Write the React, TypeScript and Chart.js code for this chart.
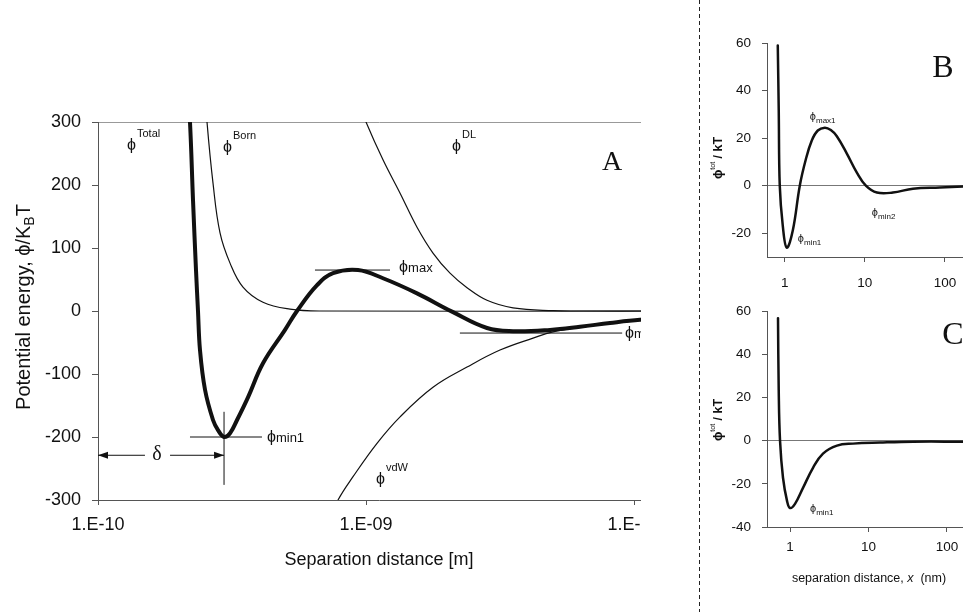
import React, { useEffect, useRef } from 'react';
import { Chart, registerables } from 'chart.js';

Chart.register(...registerables);

const SANS = '"Liberation Sans", Arial, Helvetica, sans-serif';
const SERIF = '"Liberation Serif", "Times New Roman", Times, serif';
const INK = '#111111';
const AXIS = '#555555';
const PHI = 'ϕ';

// ---------------- Panel A (separation in metres, energy in kBT) ----------------
const xTicksA = [1e-10, 1e-9, 1e-8];
const xTickLabelsA = ['1.E-10', '1.E-09', '1.E-08'];
const yTicksA = [-300, -200, -100, 0, 100, 200, 300];

const totalX = [2.167e-10, 2.204e-10, 2.262e-10, 2.321e-10, 2.361e-10, 2.402e-10, 2.508e-10, 2.686e-10, 2.804e-10, 2.953e-10, 3.109e-10, 3.302e-10, 3.628e-10, 4.127e-10, 4.986e-10, 5.527e-10, 6.566e-10, 7.533e-10, 9.336e-10, 1.157e-9, 1.55e-9, 2.094e-9, 2.828e-9, 3.537e-9, 4.861e-9, 6.288e-9, 8.137e-9, 1.053e-8, 1.24e-8];
const totalY = [335, 300, 176, 65, 0, -62, -125, -173, -189, -200, -194, -173, -137, -83, -30, 0, 41, 60, 65, 52, 28, -1, -27, -32, -30, -25, -19, -14, -13];

const bornX = [2.529e-10, 2.551e-10, 2.686e-10, 2.853e-10, 3.109e-10, 3.475e-10, 4.127e-10, 5.204e-10, 6.735e-10, 1.25e-8];
const bornY = [335, 300, 203, 124, 76, 38, 14, 3, 0, 0];

const dlX = [9.497e-10, 1.0e-9, 1.157e-9, 1.34e-9, 1.55e-9, 1.778e-9, 2.058e-9, 2.382e-9, 2.828e-9, 3.537e-9, 4.988e-9, 6.453e-9, 1.25e-8];
const dlY = [327, 300, 240, 187, 133, 92, 60, 37, 17, 5, 0.5, 0, 0];

const vdwX = [7.661e-10, 7.862e-10, 8.944e-10, 1.099e-9, 1.34e-9, 1.778e-9, 2.382e-9, 3.162e-9, 4.2e-9, 4.988e-9, 6.288e-9, 8.137e-9, 1.053e-8, 1.25e-8];
const vdwY = [-316, -300, -263, -210, -168, -121, -89, -62, -43, -33, -26, -20, -15, -13];

// marker lines of panel A (data coordinates)
const phiMaxLevel = 65;
const phiMaxSpan = [6.45e-10, 1.229e-9];
const phiMin2Level = -35;
const phiMin2Span = [2.24e-9, 9.03e-9];
const phiMin1Level = -200;
const phiMin1Span = [2.204e-10, 4.091e-10];
const phiMin1At = 2.953e-10;
const phiMin1Vertical = [-160, -276];
const deltaLevel = -229;
const deltaGap = [1.497e-10, 1.857e-10];

const superLabelsA = [
  { x: 1.283e-10, y: 255, sup: 'Total' },
  { x: 2.927e-10, y: 252, sup: 'Born' },
  { x: 2.093e-9, y: 254, sup: 'DL' },
  { x: 1.09e-9, y: -274, sup: 'vdW' },
];
const subLabelsA = [
  { x: 1.329e-9, y: 62, sub: 'max' },
  { x: 4.27e-10, y: -208, sub: 'min1' },
  { x: 9.26e-9, y: -43, sub: 'min2' },
];

// ---------------- Panel B (separation in nm, energy in kT) ----------------
const xTicksBC = [1, 10, 100];
const xTickLabelsBC = ['1', '10', '100'];
const yTicksB = [-20, 0, 20, 40, 60];
const bX = [0.818, 0.841, 0.866, 0.944, 1.059, 1.259, 1.54, 1.83, 2.175, 2.585, 3.162, 3.758, 4.467, 5.957, 7.943, 10.29, 14.13, 22.39, 39.81, 86.6, 168];
const bY = [58.9, 31.6, 0, -16.8, -26.1, -18.9, 0, 11, 19, 23.2, 24.4, 23.4, 20.8, 13.5, 5.5, 0, -2.9, -2.9, -1.3, -0.8, -0.4];
const labelsB = [
  { x: 2.054, y: 27.8, sub: 'max1' },
  { x: 12.23, y: -12.6, sub: 'min2' },
  { x: 1.454, y: -23.6, sub: 'min1' },
];

// ---------------- Panel C ----------------
const yTicksC = [-40, -20, 0, 20, 40, 60];
const cX = [0.703, 0.718, 0.746, 0.814, 0.916, 1.0, 1.158, 1.464, 1.963, 2.63, 3.97, 6.35, 14.0, 36.9, 159];
const cY = [56.7, 23.3, 0, -17.2, -27.9, -31.2, -29.3, -21.9, -12.6, -6, -2.3, -1.4, -0.9, -0.5, -0.5];
const labelsC = [{ x: 1.798, y: -33, sub: 'min1' }];

type Part = { t: string; size: number; family?: string; style?: string; dy?: number; dx?: number };

function setFont(ctx: CanvasRenderingContext2D, p: Part) {
  ctx.font = `${p.style || ''} ${p.size}px ${p.family || SANS}`;
}
function partsWidth(ctx: CanvasRenderingContext2D, parts: Part[]) {
  let w = 0;
  for (const p of parts) {
    setFont(ctx, p);
    w += (p.dx || 0) + ctx.measureText(p.t).width;
  }
  return w;
}
function drawParts(ctx: CanvasRenderingContext2D, x: number, y: number, parts: Part[]) {
  let cx = x;
  for (const p of parts) {
    setFont(ctx, p);
    cx += p.dx || 0;
    ctx.fillText(p.t, cx, y + (p.dy || 0));
    cx += ctx.measureText(p.t).width;
  }
}
function seg(ctx: CanvasRenderingContext2D, x0: number, y0: number, x1: number, y1: number) {
  ctx.beginPath();
  ctx.moveTo(x0, y0);
  ctx.lineTo(x1, y1);
  ctx.stroke();
}
function arrowHead(ctx: CanvasRenderingContext2D, x: number, y: number, dir: number) {
  ctx.beginPath();
  ctx.moveTo(x, y);
  ctx.lineTo(x - dir * 10, y - 3.5);
  ctx.lineTo(x - dir * 10, y + 3.5);
  ctx.closePath();
  ctx.fill();
}

function series(xs: number[], ys: number[], width: number) {
  return {
    data: xs.map((x, i) => ({ x, y: ys[i] })),
    showLine: true,
    borderColor: INK,
    backgroundColor: INK,
    borderWidth: width,
    borderJoinStyle: 'round',
    borderCapStyle: 'round',
    pointRadius: 0,
    tension: 0.4,
    clip: 0,
  };
}

function logAxis(min: number, max: number, ticks: number[], labels: string[], size: number, pad: number, height: number, tickLen: number, title?: any) {
  return {
    type: 'logarithmic',
    min,
    max,
    afterBuildTicks: (s: any) => {
      s.ticks = ticks.map((v) => ({ value: v }));
    },
    afterFit: (s: any) => {
      s.height = height;
    },
    ticks: {
      callback: (_v: any, i: number) => labels[i],
      font: { family: SANS, size },
      color: INK,
      padding: pad,
      maxRotation: 0,
      minRotation: 0,
      autoSkip: false,
    },
    grid: { display: true, drawOnChartArea: false, tickLength: tickLen, tickColor: AXIS, tickWidth: 1 },
    border: { display: true, color: AXIS, width: 1 },
    title: title || { display: false },
  };
}

function linAxis(min: number, max: number, ticks: number[], size: number, pad: number, width: number, tickLen: number, lineAt: number, lineColor: string) {
  return {
    type: 'linear',
    min,
    max,
    afterBuildTicks: (s: any) => {
      s.ticks = ticks.map((v) => ({ value: v }));
    },
    afterFit: (s: any) => {
      s.width = width;
    },
    ticks: { font: { family: SANS, size }, color: INK, padding: pad },
    grid: {
      display: true,
      drawOnChartArea: true,
      color: (c: any) => (c.tick && c.tick.value === lineAt ? lineColor : 'rgba(0,0,0,0)'),
      tickColor: AXIS,
      tickLength: tickLen,
      lineWidth: 1,
    },
    border: { display: true, color: AXIS, width: 1 },
  };
}

const overlayA = {
  id: 'overlayA',
  afterDraw(chart: any) {
    const ctx: CanvasRenderingContext2D = chart.ctx;
    const X = (v: number) => chart.scales.x.getPixelForValue(v);
    const Y = (v: number) => chart.scales.y.getPixelForValue(v);
    const area = chart.chartArea;
    ctx.save();
    ctx.strokeStyle = INK;
    ctx.fillStyle = INK;
    ctx.lineWidth = 1;
    seg(ctx, X(phiMaxSpan[0]), Y(phiMaxLevel), X(phiMaxSpan[1]), Y(phiMaxLevel));
    seg(ctx, X(phiMin2Span[0]), Y(phiMin2Level), X(phiMin2Span[1]), Y(phiMin2Level));
    seg(ctx, X(phiMin1Span[0]), Y(phiMin1Level), X(phiMin1Span[1]), Y(phiMin1Level));
    seg(ctx, X(phiMin1At), Y(phiMin1Vertical[0]), X(phiMin1At), Y(phiMin1Vertical[1]));
    const dyy = Y(deltaLevel);
    const x0 = X(xTicksA[0]);
    const x1 = X(phiMin1At);
    seg(ctx, x0, dyy, X(deltaGap[0]), dyy);
    seg(ctx, X(deltaGap[1]), dyy, x1, dyy);
    arrowHead(ctx, x0, dyy, -1);
    arrowHead(ctx, x1, dyy, 1);

    ctx.textAlign = 'left';
    ctx.textBaseline = 'alphabetic';
    for (const l of superLabelsA) {
      drawParts(ctx, X(l.x), Y(l.y), [
        { t: PHI, size: 16 },
        { t: l.sup, size: 11, dy: -13, dx: 1 },
      ]);
    }
    for (const l of subLabelsA) {
      drawParts(ctx, X(l.x), Y(l.y), [
        { t: PHI, size: 16 },
        { t: l.sub, size: 13 },
      ]);
    }
    ctx.textAlign = 'center';
    ctx.textBaseline = 'middle';
    ctx.font = `20px ${SERIF}`;
    ctx.fillText('δ', X(1.66e-10), dyy - 1);
    ctx.font = `28px ${SERIF}`;
    ctx.fillText('A', X(8.28e-9), Y(236));

    ctx.textAlign = 'left';
    ctx.textBaseline = 'alphabetic';
    ctx.save();
    ctx.translate(area.left - 68, (area.top + area.bottom) / 2 - 4);
    ctx.rotate(-Math.PI / 2);
    const parts: Part[] = [
      { t: 'Potential energy, ' + PHI + '/K', size: 20 },
      { t: 'B', size: 14, dy: 4 },
      { t: 'T', size: 20 },
    ];
    drawParts(ctx, -partsWidth(ctx, parts) / 2, 0, parts);
    ctx.restore();
    ctx.restore();
  },
};

function smallOverlay(id: string, labels: { x: number; y: number; sub: string }[], letter: string, letterPos: number[], titleDy: number, xTitle: boolean) {
  return {
    id,
    afterDraw(chart: any) {
      const ctx: CanvasRenderingContext2D = chart.ctx;
      const X = (v: number) => chart.scales.x.getPixelForValue(v);
      const Y = (v: number) => chart.scales.y.getPixelForValue(v);
      const area = chart.chartArea;
      ctx.save();
      ctx.fillStyle = INK;
      ctx.textAlign = 'left';
      ctx.textBaseline = 'alphabetic';
      for (const l of labels) {
        drawParts(ctx, X(l.x), Y(l.y), [
          { t: PHI, size: 11 },
          { t: l.sub, size: 8, dy: 3 },
        ]);
      }
      ctx.textAlign = 'center';
      ctx.textBaseline = 'middle';
      ctx.font = `32px ${SERIF}`;
      ctx.fillText(letter, X(letterPos[0]), Y(letterPos[1]));

      ctx.textAlign = 'left';
      ctx.textBaseline = 'alphabetic';
      ctx.save();
      ctx.translate(area.left - 45, (area.top + area.bottom) / 2 + titleDy);
      ctx.rotate(-Math.PI / 2);
      const parts: Part[] = [
        { t: PHI, size: 12.5, style: 'bold' },
        { t: 'tot', size: 7, dy: -7 },
        { t: ' / kT', size: 12.5, style: 'bold' },
      ];
      drawParts(ctx, -partsWidth(ctx, parts) / 2, 0, parts);
      ctx.restore();

      if (xTitle) {
        const tparts: Part[] = [
          { t: 'separation distance, ', size: 12.5 },
          { t: 'x', size: 12.5, style: 'italic' },
          { t: '  (nm)', size: 12.5 },
        ];
        ctx.textBaseline = 'middle';
        const cx = (area.left + area.right) / 2 + 4;
        drawParts(ctx, cx - partsWidth(ctx, tparts) / 2, area.bottom + 52, tparts);
      }
      ctx.restore();
    },
  };
}

function configA(): any {
  return {
    type: 'scatter',
    data: {
      datasets: [series(bornX, bornY, 1.2), series(dlX, dlY, 1.2), series(vdwX, vdwY, 1.2), series(totalX, totalY, 4)],
    },
    options: {
      animation: false,
      responsive: false,
      events: [],
      layout: { padding: { left: 0, top: 122, right: 40, bottom: 32 } },
      plugins: { legend: { display: false }, tooltip: { enabled: false } },
      scales: {
        x: logAxis(1e-10, 1.25e-8, xTicksA, xTickLabelsA, 18, 9, 80, 5, {
          display: true,
          text: 'Separation distance [m]',
          font: { family: SANS, size: 18 },
          color: INK,
          padding: { top: 0, bottom: 9 },
        }),
        y: linAxis(-300, 300, yTicksA, 18, 11, 98, 6, 300, '#999999'),
      },
    },
    plugins: [overlayA],
  };
}

function configB(): any {
  return {
    type: 'scatter',
    data: { datasets: [series(bX, bY, 2.5)] },
    options: {
      animation: false,
      responsive: false,
      events: [],
      layout: { padding: { left: 0, top: 43, right: 40, bottom: 3 } },
      plugins: { legend: { display: false }, tooltip: { enabled: false } },
      scales: {
        x: logAxis(0.6, 168, xTicksBC, xTickLabelsBC, 13.5, 13, 40, 5),
        y: linAxis(-30, 60, yTicksB, 13.5, 11, 77, 5, 0, '#777777'),
      },
    },
    plugins: [smallOverlay('overlayB', labelsB, 'B', [94.4, 49.3], 8, false)],
  };
}

function configC(): any {
  return {
    type: 'scatter',
    data: { datasets: [series(cX, cY, 2.5)] },
    options: {
      animation: false,
      responsive: false,
      events: [],
      layout: { padding: { left: 0, top: 21, right: 40, bottom: 25 } },
      plugins: { legend: { display: false }, tooltip: { enabled: false } },
      scales: {
        x: logAxis(0.509, 160, xTicksBC, xTickLabelsBC, 13.5, 7, 60, 5),
        y: linAxis(-40, 60, yTicksC, 13.5, 11, 77, 5, 0, '#777777'),
      },
    },
    plugins: [smallOverlay('overlayC', labelsC, 'C', [119, 48.8], 1, true)],
  };
}

export default function App() {
  const refA = useRef<HTMLCanvasElement>(null);
  const refB = useRef<HTMLCanvasElement>(null);
  const refC = useRef<HTMLCanvasElement>(null);

  useEffect(() => {
    const charts = [
      new Chart(refA.current as HTMLCanvasElement, configA()),
      new Chart(refB.current as HTMLCanvasElement, configB()),
      new Chart(refC.current as HTMLCanvasElement, configC()),
    ];
    return () => charts.forEach((c) => c.destroy());
  }, []);

  return (
    <div style={{ position: 'absolute', left: 0, top: 0, width: 963, height: 612, background: '#ffffff', overflow: 'hidden' }}>
      <div style={{ position: 'absolute', left: 0, top: 0, width: 641, height: 612, overflow: 'hidden' }}>
        <canvas ref={refA} width={700} height={612} style={{ display: 'block', width: 700, height: 612 }} />
      </div>
      <canvas ref={refB} width={313} height={300} style={{ position: 'absolute', left: 690, top: 0, width: 313, height: 300 }} />
      <canvas ref={refC} width={313} height={322} style={{ position: 'absolute', left: 690, top: 290, width: 313, height: 322 }} />
      <div
        style={{
          position: 'absolute',
          left: 699,
          top: 0,
          width: 1,
          height: 612,
          background: 'repeating-linear-gradient(to bottom, #222 0px, #222 4px, transparent 4px, transparent 7px)',
        }}
      />
    </div>
  );
}
